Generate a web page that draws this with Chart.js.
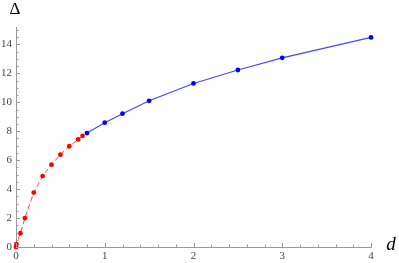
<!DOCTYPE html>
<html lang="en">

<head>
  <meta charset="UTF-8" />
  <title>Delta vs d</title>
  <script src="https://cdn.jsdelivr.net/npm/chart.js"></script>
  <style>
    html, body { margin: 0; padding: 0; background: #fff; }
    .wrap { width: 399px; height: 263px; position: relative; }
  </style>
</head>

<body>
  <div class="wrap">
    <canvas id="myChart_delta" width="399" height="263"></canvas>
  </div>

  <script>
    // red (dashed) branch
    const redD = [0, 0.005, 0.05, 0.1, 0.2, 0.3, 0.4, 0.5, 0.6, 0.7, 0.75];
    const redDelta = [0, 0.2, 0.95, 2.0, 3.76, 4.9, 5.69, 6.38, 6.96, 7.43, 7.68];
    // blue (solid) branch
    const blueD = [0.8, 1.0, 1.2, 1.5, 2.0, 2.5, 3.0, 4.0];
    const blueDelta = [7.87, 8.59, 9.21, 10.1, 11.3, 12.23, 13.07, 14.48];
    // tick labels
    const xTicks = [0, 1, 2, 3, 4];
    const yTicks = [0, 2, 4, 6, 8, 10, 12, 14];

    const toPoints = (xs, ys) => xs.map((x, i) => ({ x: x, y: ys[i] }));

    const axisColor = '#9a9a9a';
    const labelFont = { family: 'Liberation Serif', size: 11 };

    // inward tick marks + axis titles, mathematica style
    const axisDeco = {
      id: 'axisDeco',
      afterDraw(chart) {
        const ctx = chart.ctx;
        const xs = chart.scales.x;
        const ys = chart.scales.y;
        const area = chart.chartArea;
        ctx.save();
        ctx.strokeStyle = axisColor;
        ctx.lineWidth = 1;
        ctx.beginPath();
        for (let i = 0; i <= 20; i++) {
          const v = i * 0.2;
          const px = Math.round(xs.getPixelForValue(v)) + 0.5;
          const len = (i % 5 === 0) ? 4 : 2.5;
          ctx.moveTo(px, area.bottom);
          ctx.lineTo(px, area.bottom - len);
        }
        for (let i = 0; i <= 30; i++) {
          const v = i * 0.5;
          const py = Math.round(ys.getPixelForValue(v)) + 0.5;
          const len = (i % 4 === 0) ? 4 : 2.5;
          ctx.moveTo(area.left, py);
          ctx.lineTo(area.left + len, py);
        }
        ctx.stroke();

        ctx.fillStyle = '#000';
        ctx.textAlign = 'center';
        ctx.textBaseline = 'middle';
        ctx.font = '17px "Liberation Serif"';
        ctx.fillText('Δ', 15, 10);
        ctx.font = 'italic 19px "Liberation Serif"';
        ctx.fillText('d', 391, 245);
        ctx.restore();
      }
    };

    const ctxEl = document.getElementById('myChart_delta');

    new Chart(ctxEl, {
      type: 'scatter',
      data: {
        datasets: [{
          label: 'red',
          data: toPoints(redD, redDelta),
          showLine: true,
          borderColor: 'rgb(255, 70, 70)',
          borderWidth: 1,
          borderDash: [5, 3],
          backgroundColor: 'rgb(255, 0, 0)',
          pointBorderWidth: 0,
          pointRadius: 2.4,
          clip: false,
        }, {
          label: 'blue',
          data: toPoints(blueD, blueDelta),
          showLine: true,
          borderColor: 'rgb(70, 70, 255)',
          borderWidth: 1.2,
          backgroundColor: 'rgb(0, 0, 255)',
          pointBorderWidth: 0,
          pointRadius: 2.4,
          clip: false,
        }],
      },
      options: {
        responsive: false,
        animation: false,
        devicePixelRatio: 1,
        layout: {
          padding: { left: 0, right: 28, top: 27, bottom: 0 },
        },
        plugins: {
          legend: { display: false },
          tooltip: { enabled: false },
        },
        scales: {
          x: {
            type: 'linear',
            min: 0,
            max: 4,
            grid: { display: false, drawTicks: false },
            border: { display: true, color: axisColor, width: 1 },
            afterBuildTicks: (scale) => { scale.ticks = xTicks.map(v => ({ value: v })); },
            afterFit: (scale) => { scale.height = 16; },
            ticks: {
              padding: 3,
              color: '#444',
              font: labelFont,
              maxRotation: 0,
              autoSkip: false,
            },
          },
          y: {
            type: 'linear',
            min: 0,
            max: 15.2,
            grid: { display: false, drawTicks: false },
            border: { display: true, color: axisColor, width: 1 },
            afterBuildTicks: (scale) => { scale.ticks = yTicks.map(v => ({ value: v })); },
            afterFit: (scale) => { scale.width = 16; },
            ticks: {
              padding: 4,
              color: '#444',
              font: labelFont,
              autoSkip: false,
            },
          },
        },
      },
      plugins: [axisDeco],
    });
  </script>
</body>

</html>
